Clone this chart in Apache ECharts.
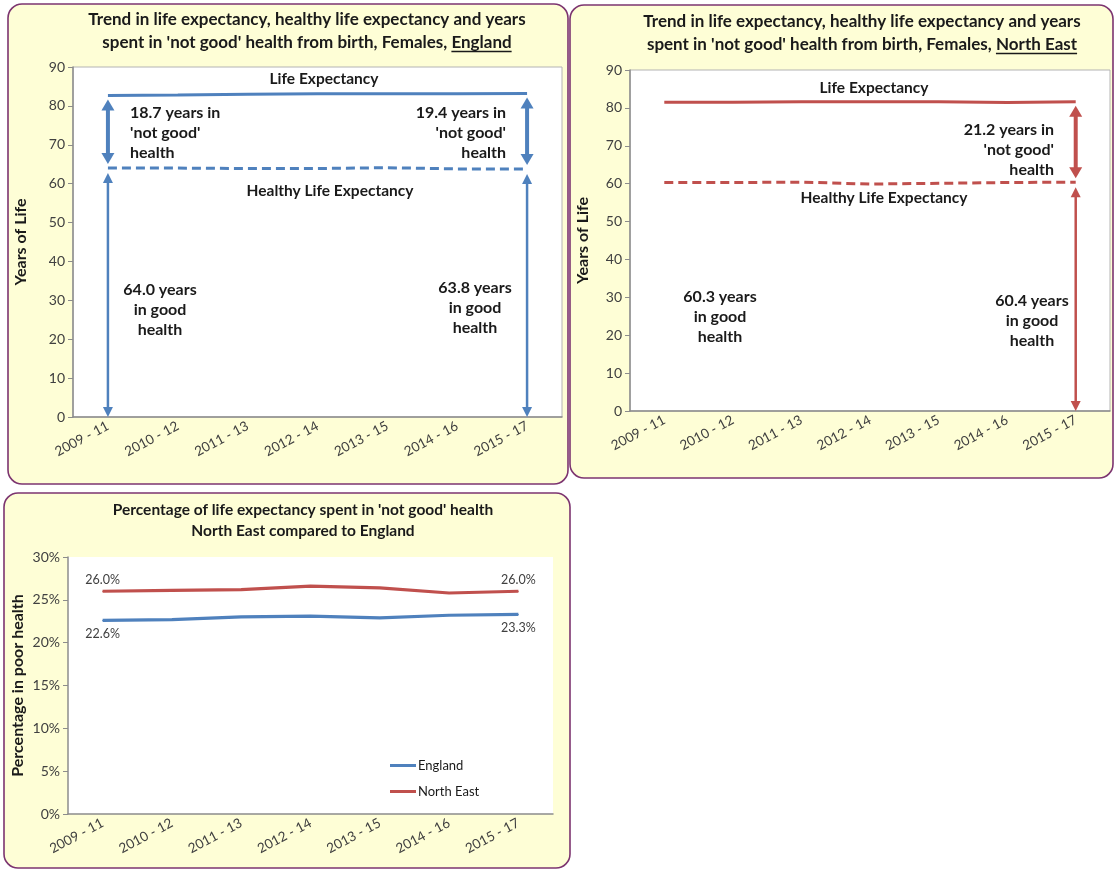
<!DOCTYPE html>
<html>
<head>
<meta charset="utf-8">
<script src="https://cdn.jsdelivr.net/npm/echarts@6/dist/echarts.min.js"></script>
<style>
  html, body { margin: 0; padding: 0; background: #ffffff; }
  #chart { width: 1115px; height: 870px; }
</style>
</head>
<body>
<div id="chart"></div>
<script>
// Three-year periods on every x axis
const periods = ['2009 - 11', '2010 - 12', '2011 - 13', '2012 - 14', '2013 - 15', '2014 - 16', '2015 - 17'];

// Female life expectancy (LE) and healthy life expectancy (HLE) from birth, years
const englandLE = [82.7, 82.8, 83.0, 83.1, 83.1, 83.1, 83.2];
const englandHLE = [64.0, 64.0, 63.9, 63.9, 64.1, 63.8, 63.8];
const northEastLE = [81.5, 81.5, 81.6, 81.6, 81.6, 81.4, 81.6];
const northEastHLE = [60.3, 60.3, 60.4, 59.9, 60.1, 60.3, 60.4];

// Share of life expectancy spent in 'not good' health, %
const englandPct = [22.6, 22.7, 23.0, 23.1, 22.9, 23.2, 23.3];
const northEastPct = [26.0, 26.1, 26.2, 26.6, 26.4, 25.8, 26.0];

// Value-axis scales
const yearsAxis = { min: 0, max: 90, interval: 10 };
const pctAxis = { min: 0, max: 30, interval: 5 };

const BLUE = '#4f81bd';
const RED = '#c0504d';
const INK = '#1a1a1a';
const AXIS_TEXT = '#404040';
const FONT = 'Lato';

const fmt = v => v.toFixed(1);

// Double-headed vertical arrow between two values at one category
function arrowRenderer(color, shaft, headW, headL, gapTop, gapBottom) {
  return function (params, api) {
    const a = api.coord([api.value(0), api.value(1)]);
    const b = api.coord([api.value(0), api.value(2)]);
    const cx = a[0];
    const top = Math.min(a[1], b[1]) + gapTop;
    const bottom = Math.max(a[1], b[1]) - gapBottom;
    return {
      type: 'group',
      children: [
        { type: 'line', shape: { x1: cx, y1: top + headL - 1, x2: cx, y2: bottom - headL + 1 },
          style: { stroke: color, lineWidth: shaft } },
        { type: 'polygon', shape: { points: [[cx, top], [cx - headW / 2, top + headL], [cx + headW / 2, top + headL]] },
          style: { fill: color } },
        { type: 'polygon', shape: { points: [[cx, bottom], [cx - headW / 2, bottom - headL], [cx + headW / 2, bottom - headL]] },
          style: { fill: color } }
      ]
    };
  };
}

function arrowSeries(gridIdx, color, data, thick) {
  return {
    type: 'custom',
    name: 'arrows' + gridIdx + (thick ? 'a' : 'b'),
    xAxisIndex: gridIdx, yAxisIndex: gridIdx,
    silent: true,
    encode: { x: 0, y: [1, 2] },
    data: data,
    z: 5,
    renderItem: thick ? arrowRenderer(color, 4, 13, 11, 4, 4) : arrowRenderer(color, 2.5, 10, 10, 5, 0)
  };
}

function textWidth(str, font) {
  const ctx = document.createElement('canvas').getContext('2d');
  ctx.font = font;
  return ctx.measureText(str).width;
}

const TITLE_SIZE = 17;
const titleFont = 'bold ' + TITLE_SIZE + 'px ' + FONT;
const titleLH = 23;

// Title element plus an underline beneath the last words of the second line
function titleWithUnderline(cx, top, line1, line2, underlined) {
  const w2 = textWidth(line2, titleFont);
  const wU = textWidth(underlined, titleFont);
  const right = cx + w2 / 2;
  const uy = top + titleLH + titleLH / 2 + 9;
  return [
    { type: 'text', x: cx, y: top, z: 50,
      style: { text: line1 + '\n' + line2, fontFamily: FONT, fontWeight: 'bold', fontSize: TITLE_SIZE,
        lineHeight: titleLH, fill: INK, align: 'center', verticalAlign: 'top' } },
    { type: 'line', z: 50, shape: { x1: right - wU, y1: uy, x2: right, y2: uy },
      style: { stroke: INK, lineWidth: 1.3 } }
  ];
}

function note(x, y, text, align, size) {
  return { type: 'text', x: x, y: y, z: 50,
    style: { text: text, fontFamily: FONT, fontWeight: 'bold', fontSize: size || 16,
      lineHeight: 20, fill: INK, align: align, verticalAlign: 'top' } };
}

function panel(x, y, w, h) {
  return { type: 'rect', z: -10, shape: { x: x, y: y, width: w, height: h, r: 14 },
    style: { fill: '#fefed6', stroke: '#7c3470', lineWidth: 1.6 } };
}

const gapText = (le, hle) => fmt(le - hle) + " years in\n'not good'\nhealth";
const goodText = hle => fmt(hle) + ' years\nin good\nhealth';

const graphics = [
  panel(8, 4, 560, 480),
  panel(570, 5, 543, 473),
  panel(4, 493, 566, 375),
  ...titleWithUnderline(307, 8, 'Trend in life expectancy, healthy life expectancy and years',
    "spent in 'not good' health from birth, Females, England", 'England'),
  ...titleWithUnderline(862, 10, 'Trend in life expectancy, healthy life expectancy and years',
    "spent in 'not good' health from birth, Females, North East", 'North East'),
  { type: 'text', x: 303, y: 499, z: 50,
    style: { text: "Percentage of life expectancy spent in 'not good' health\nNorth East compared to England",
      fontFamily: FONT, fontWeight: 'bold', fontSize: 15.5, lineHeight: 21, fill: INK,
      align: 'center', verticalAlign: 'top' } },

  // England annotations
  note(324, 69, 'Life Expectancy', 'center', 15.5),
  note(330, 181, 'Healthy Life Expectancy', 'center', 15.5),
  note(130, 103, gapText(englandLE[0], englandHLE[0]), 'left'),
  note(506, 103, gapText(englandLE[6], englandHLE[6]), 'right'),
  note(160, 280, goodText(englandHLE[0]), 'center'),
  note(475, 278, goodText(englandHLE[6]), 'center'),

  // North East annotations
  note(874, 78, 'Life Expectancy', 'center', 15.5),
  note(884, 188, 'Healthy Life Expectancy', 'center', 15.5),
  note(1054, 120, gapText(northEastLE[6], northEastHLE[6]), 'right'),
  note(720, 287, goodText(northEastHLE[0]), 'center'),
  note(1032, 291, goodText(northEastHLE[6]), 'center')
];

function catAxis(gridIdx) {
  return {
    type: 'category', gridIndex: gridIdx, data: periods, boundaryGap: true,
    axisLine: { lineStyle: { color: '#8c8c8c', width: 1.5 } },
    axisTick: { show: false },
    axisLabel: { rotate: 28, interval: 0, margin: 8, color: AXIS_TEXT, fontFamily: FONT, fontSize: 13.5 },
    splitLine: { show: false }
  };
}

function valAxis(gridIdx, scale, name, gap, fmtr) {
  return {
    type: 'value', gridIndex: gridIdx, min: scale.min, max: scale.max, interval: scale.interval,
    name: name, nameLocation: 'middle', nameGap: gap,
    nameTextStyle: { fontFamily: FONT, fontWeight: 'bold', fontSize: 16, color: INK },
    axisLine: { show: true, lineStyle: { color: '#8c8c8c', width: 1.5 } },
    axisTick: { show: true, length: 5, lineStyle: { color: '#8c8c8c' } },
    axisLabel: { margin: 8, color: AXIS_TEXT, fontFamily: FONT, fontSize: 14, formatter: fmtr },
    splitLine: { show: false }
  };
}

function lineSeries(name, gridIdx, data, color, dashed) {
  return {
    type: 'line', name: name, xAxisIndex: gridIdx, yAxisIndex: gridIdx, data: data,
    symbol: 'none', smooth: false, silent: true, z: 3,
    lineStyle: { color: color, width: 3, type: dashed ? [9, 5] : 'solid' },
    itemStyle: { color: color }
  };
}

// Percentage lines carry tiny symbols so their end labels can be drawn
function pctSeries(name, data, color, pos, dist) {
  return Object.assign(lineSeries(name, 2, data, color, false), {
    symbol: 'circle', symbolSize: 1, showSymbol: true,
    lineStyle: { color: color, width: 3.2 },
    label: {
      show: true, position: pos, distance: dist, color: AXIS_TEXT, fontFamily: FONT, fontSize: 12.5,
      formatter: p => (p.dataIndex === 0 || p.dataIndex === periods.length - 1) ? fmt(p.value) + '%' : ''
    }
  });
}

const option = {
  animation: false,
  backgroundColor: '#ffffff',
  graphic: graphics,
  grid: [
    { left: 73, top: 67, width: 489, height: 350, show: true, backgroundColor: '#ffffff', borderColor: '#b4b4b4', borderWidth: 1 },
    { left: 630, top: 70, width: 480, height: 341, show: true, backgroundColor: '#ffffff', borderColor: '#b4b4b4', borderWidth: 1 },
    { left: 68, top: 557, width: 485, height: 257, show: true, backgroundColor: '#ffffff', borderWidth: 0 }
  ],
  xAxis: [catAxis(0), catAxis(1), catAxis(2)],
  yAxis: [
    valAxis(0, yearsAxis, 'Years of Life', 44),
    valAxis(1, yearsAxis, 'Years of Life', 39),
    valAxis(2, pctAxis, 'Percentage in poor health', 42, '{value}%')
  ],
  legend: {
    data: ['England', 'North East'], orient: 'vertical', left: 390, top: 759,
    icon: 'rect', itemWidth: 26, itemHeight: 3, itemGap: 13, padding: 0,
    textStyle: { fontFamily: FONT, fontSize: 13, color: INK, padding: [0, 0, 0, -3] },
    selectedMode: false
  },
  series: [
    lineSeries('England life expectancy', 0, englandLE, BLUE, false),
    lineSeries('England healthy life expectancy', 0, englandHLE, BLUE, true),
    arrowSeries(0, BLUE, [[0, englandLE[0], englandHLE[0]], [6, englandLE[6], englandHLE[6]]], true),
    arrowSeries(0, BLUE, [[0, englandHLE[0], 0], [6, englandHLE[6], 0]], false),

    lineSeries('North East life expectancy', 1, northEastLE, RED, false),
    lineSeries('North East healthy life expectancy', 1, northEastHLE, RED, true),
    arrowSeries(1, RED, [[6, northEastLE[6], northEastHLE[6]]], true),
    arrowSeries(1, RED, [[6, northEastHLE[6], 0]], false),

    pctSeries('England', englandPct, BLUE, 'bottom', 7),
    pctSeries('North East', northEastPct, RED, 'top', 4)
  ]
};

const chart = echarts.init(document.getElementById('chart'));
chart.setOption(option);
</script>
</body>
</html>
